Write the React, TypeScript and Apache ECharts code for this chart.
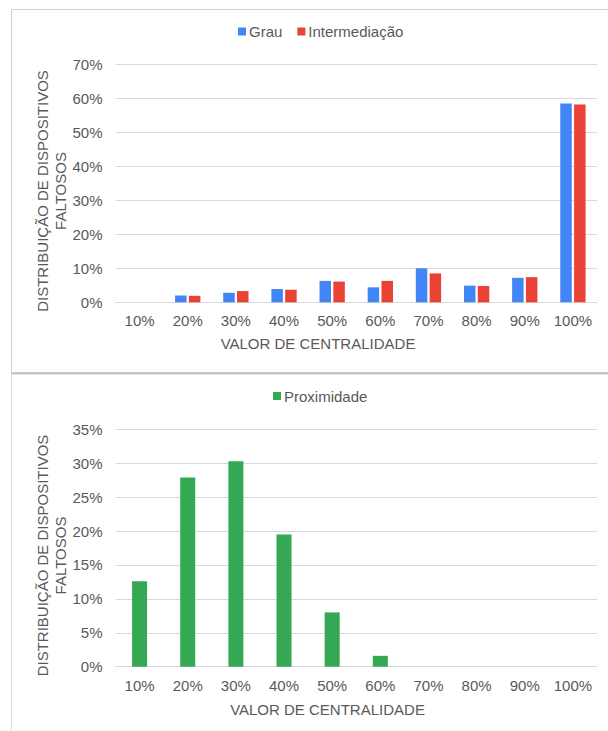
import React, { useEffect, useRef } from "react";
import * as echarts from "echarts";

const categories = ["10%", "20%", "30%", "40%", "50%", "60%", "70%", "80%", "90%", "100%"];
const grau = [0, 2.0, 2.8, 3.9, 6.3, 4.4, 10.0, 4.9, 7.2, 58.5];
const intermediacao = [0, 1.9, 3.3, 3.7, 6.1, 6.3, 8.5, 4.8, 7.4, 58.2];
const proximidade = [12.6, 27.9, 30.3, 19.5, 8.0, 1.6, 0, 0, 0, 0];

const yTitle = "DISTRIBUIÇÃO DE DISPOSITIVOS\nFALTOSOS";
const xTitle = "VALOR DE CENTRALIDADE";

const FONT = "'Liberation Sans', Arial, sans-serif";
const TXT = "#595959";

export default function App() {
  const ref = useRef<HTMLDivElement>(null);
  useEffect(() => {
    if (!ref.current) return;
    const chart = echarts.init(ref.current, undefined, { renderer: "svg" });
    const axisLabel = { color: TXT, fontSize: 15, fontFamily: FONT };
    const xAxisBase = {
      type: "category",
      data: categories,
      axisTick: { show: false },
      axisLine: { lineStyle: { color: "#d9d9d9" } },
      axisLabel: { ...axisLabel, margin: 11, interval: 0 },
    };
    const yAxisBase = {
      type: "value",
      min: 0,
      axisLine: { show: false },
      axisTick: { show: false },
      splitLine: { lineStyle: { color: "#d9d9d9" } },
      axisLabel: { ...axisLabel, margin: 13, formatter: "{value}%" },
    };
    chart.setOption({
      animation: false,
      backgroundColor: "#ffffff",
      textStyle: { fontFamily: FONT },
      grid: [
        { left: 115.5, right: 11, top: 64.3, bottom: 731 - 302.3 },
        { left: 115.5, right: 11, top: 429.3, bottom: 731 - 666.7 },
      ],
      legend: [
        {
          data: ["Grau", "Intermediação"],
          left: 233,
          top: 19,
          icon: "rect",
          itemWidth: 8,
          itemHeight: 8,
          itemGap: 15,
          textStyle: { color: TXT, fontSize: 15, fontFamily: FONT, padding: [0, 0, 0, -2] },
        },
        {
          data: ["Proximidade"],
          left: 268,
          top: 383.5,
          icon: "rect",
          itemWidth: 8,
          itemHeight: 8,
          textStyle: { color: TXT, fontSize: 15, fontFamily: FONT, padding: [0, 0, 0, -2] },
        },
      ],
      xAxis: [
        { ...xAxisBase, gridIndex: 0 },
        { ...xAxisBase, gridIndex: 1 },
      ],
      yAxis: [
        { ...yAxisBase, gridIndex: 0, max: 70, interval: 10 },
        { ...yAxisBase, gridIndex: 1, max: 35, interval: 5 },
      ],
      series: [
        {
          name: "Grau",
          type: "bar",
          xAxisIndex: 0,
          yAxisIndex: 0,
          data: grau,
          barWidth: 11.5,
          barGap: "20%",
          itemStyle: { color: "#4285F4" },
        },
        {
          name: "Intermediação",
          type: "bar",
          xAxisIndex: 0,
          yAxisIndex: 0,
          data: intermediacao,
          barWidth: 11.5,
          barGap: "20%",
          itemStyle: { color: "#EA4335" },
        },
        {
          name: "Proximidade",
          type: "bar",
          xAxisIndex: 1,
          yAxisIndex: 1,
          data: proximidade,
          barWidth: 15,
          itemStyle: { color: "#34A853" },
        },
      ],
      graphic: [
        {
          type: "rect",
          z: -10,
          shape: { x: 11.5, y: 9.5, width: 620, height: 363 },
          style: { fill: "none", stroke: "#d0d0d0", lineWidth: 1 },
          silent: true,
        },
        {
          type: "line",
          z: -9,
          shape: { x1: 11, y1: 373.3, x2: 620, y2: 373.3 },
          style: { stroke: "#c6c6c6", lineWidth: 2.5 },
          silent: true,
        },
        {
          type: "line",
          z: -9,
          shape: { x1: 11.5, y1: 375, x2: 11.5, y2: 740 },
          style: { stroke: "#dedede", lineWidth: 1 },
          silent: true,
        },
        {
          type: "text",
          x: 51,
          y: 191,
          rotation: Math.PI / 2,
          style: {
            text: yTitle,
            fill: TXT,
            font: `15px ${FONT}`,
            align: "center",
            verticalAlign: "middle",
            lineHeight: 18,
          },
        },
        {
          type: "text",
          x: 51,
          y: 555.5,
          rotation: Math.PI / 2,
          style: {
            text: yTitle,
            fill: TXT,
            font: `15px ${FONT}`,
            align: "center",
            verticalAlign: "middle",
            lineHeight: 18,
          },
        },
        {
          type: "text",
          x: 318,
          y: 343,
          style: {
            text: xTitle,
            fill: TXT,
            font: `15px ${FONT}`,
            align: "center",
            verticalAlign: "middle",
          },
        },
        {
          type: "text",
          x: 327.5,
          y: 709,
          style: {
            text: xTitle,
            fill: TXT,
            font: `15px ${FONT}`,
            align: "center",
            verticalAlign: "middle",
          },
        },
      ],
    });
    return () => chart.dispose();
  }, []);
  return (
    <div
      ref={ref}
      style={{ position: "absolute", left: 0, top: 0, width: 608, height: 731 }}
    />
  );
}
